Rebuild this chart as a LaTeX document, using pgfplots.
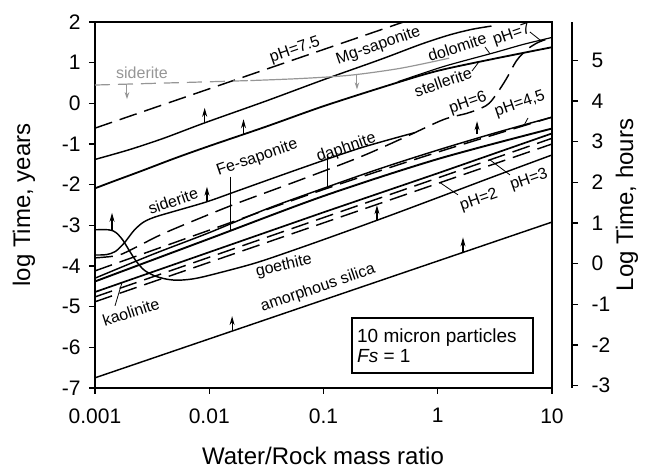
\documentclass[border=0pt]{standalone}
\usepackage{fontspec}
\setmainfont{Liberation Sans}
\usepackage{pgfplots}
\pgfplotsset{compat=1.18}
\usetikzlibrary{arrows.meta}
\definecolor{sgray}{RGB}{150,150,150}
\tikzset{
  lbl/.style={font=\fontsize{16}{16}\selectfont, inner sep=0pt},
  upar/.style={-{Stealth[length=9pt,width=5pt]}, line width=1.1pt, black},
  ldr/.style={line width=0.8pt, black},
  dsh/.style={dash pattern=on 18pt off 8pt},
}
\newcommand\uparr[3][15pt]{\draw[upar] (axis cs:#2,#3) -- ([yshift=#1]axis cs:#2,#3);}
\newcommand\grayarr[2]{\draw[-{Stealth[length=7pt,width=4.5pt]}, line width=1pt, sgray] (axis cs:#1,#2) -- ([yshift=-15pt]axis cs:#1,#2);}
\begin{document}
\begin{tikzpicture}
\begin{axis}[
  at={(0pt,0pt)}, anchor=south west,
  scale only axis, width=457pt, height=366pt,
  xmin=-3, xmax=1, ymin=-7, ymax=2,
  xtick={-3,-2,-1,0,1}, xticklabels={0.001,0.01,0.1,1,10},
  ytick={-7,-6,-5,-4,-3,-2,-1,0,1,2},
  yticklabels={-7,-6,-5,-4,-3,-2,-1,0,1,2},
  tick pos=left, tick align=outside, major tick length=6pt,
  axis line style={line width=1.7pt},
  tick style={line width=1.4pt, black},
  ticklabel style={font=\fontsize{21}{21}\selectfont},
  xticklabel style={yshift=-11pt},
  yticklabel style={xshift=-5pt},
  clip=false,
  cycle list={{black}},
  every axis plot/.append style={line width=1.45pt, black, mark=none},
]
% amorphous silica
\addplot[black] coordinates {(-3,-6.75) (1,-2.92)};
% goethite
\addplot[black, smooth, tension=0.5] coordinates {(-3,-3.11) (-2.88,-3.11) (-2.82,-3.17) (-2.76,-3.35) (-2.7,-3.62) (-2.64,-3.88) (-2.57,-4.1) (-2.48,-4.24) (-2.38,-4.32) (-2.28,-4.35) (-2.15,-4.32) (-2.0,-4.23) (-1.6,-3.93) (-1.2,-3.55) (-0.8,-3.15) (-0.4,-2.74) (0,-2.32) (0.5,-1.79) (1,-1.27)};
% pH=2, pH=3
\addplot[black, dsh] coordinates {(-3,-4.88) (1,-1.0)};
\addplot[black, dsh] coordinates {(-3,-4.76) (1,-0.86)};
% kaolinite
\addplot[black, line width=1.7pt] coordinates {(-3,-4.64) (-2,-3.66) (-1,-2.68) (0,-1.72) (1,-0.74)};
% Fe-saponite
\addplot[black, line width=1.9pt, smooth] coordinates {(-3,-4.38) (-2,-3.33) (-1,-2.28) (0,-1.37) (1,-0.62)};
% pH=4.5
\addplot[black, dsh, smooth] coordinates {(-3,-4.12) (-2,-3.12) (-1,-2.12) (0,-1.2) (1,-0.34)};
% daphnite
\addplot[black, smooth] coordinates {(-3,-4.30) (-2.5,-3.72) (-2,-3.18) (-1.5,-2.6) (-1,-2.09) (-0.5,-1.6) (0,-1.15) (0.5,-0.73) (1,-0.34)};
% pH=6 / pH=7 dashed
\addplot[black, dsh, smooth, tension=0.5] coordinates {(-3,-3.80) (-2.8,-3.74) (-2.65,-3.55) (-2.4,-3.2) (-2.0,-2.73) (-1.73,-2.43) (-1.2,-1.88) (-0.68,-1.32) (-0.3,-0.85) (0.05,-0.4) (0.25,-0.25) (0.38,-0.12) (0.45,0.0) (0.52,0.25) (0.6,0.6) (0.69,1.05) (0.78,1.32) (0.88,1.5) (1,1.62)};
% siderite
\addplot[black, smooth, tension=0.5] coordinates {(-3,-3.73) (-2.9,-3.72) (-2.82,-3.64) (-2.74,-3.42) (-2.66,-3.13) (-2.58,-2.93) (-2.48,-2.8) (-2.3,-2.65) (-2.02,-2.42) (-1.73,-2.13) (-1.2,-1.6) (-0.68,-1.1) (-0.2,-0.72)};
% stellerite
\addplot[black, line width=1.8pt, smooth] coordinates {(-3,-2.09) (-2.85,-1.93) (-2.6,-1.67) (-2.3,-1.35) (-2,-1.05) (-1.5,-0.57) (-1,-0.07) (-0.4,0.47) (0,0.8) (0.5,1.1) (1,1.38)};
% dolomite
\addplot[black, line width=1.2pt, smooth] coordinates {(-0.35,0.53) (0,0.86) (0.17,1.0) (0.5,1.25) (0.75,1.45) (1,1.62)};
% Mg-saponite
\addplot[black, smooth] coordinates {(-3,-1.38) (-2.7,-1.14) (-2.4,-0.86) (-2.04,-0.48) (-1.5,0.06) (-1,0.58) (-0.5,1.08) (-0.15,1.45) (0.1,1.68) (0.3,1.82) (0.47,1.9)};
% pH=7.5
\addplot[black, dsh] coordinates {(-3,-0.61) (-0.3,2.0)};
% siderite (gray)
\addplot[sgray, line width=1.2pt, dash pattern=on 15pt off 8pt] coordinates {(-3,0.45) (-2.5,0.49) (-2,0.53) (-1.64,0.56)};
\addplot[sgray, line width=1.2pt, smooth] coordinates {(-1.64,0.56) (-1.2,0.61) (-0.77,0.69) (-0.33,0.86) (0.1,1.11)};

% arrows
\uparr{-1.8}{-5.601}
\uparr{0.221}{-3.666}
\uparr[17pt]{-2.851}{-3.11}
\uparr{-0.532}{-2.875}
\uparr{-2.02}{-2.42}
\uparr[13pt]{0.344}{-0.76}
\uparr{-1.70}{-0.76}
\uparr{-2.04}{-0.48}
\grayarr{-2.72}{0.47}
\grayarr{-0.707}{0.71}

% leaders
\draw[ldr] (axis cs:0.807,1.754) -- (axis cs:0.912,1.52);
\draw[ldr] (axis cs:0.414,1.385) -- (axis cs:0.457,1.22);
\draw[ldr] (axis cs:0.30,0.795) -- (axis cs:0.361,1.02);
\draw[ldr] (axis cs:0.79,-0.36) -- (axis cs:0.755,-0.54);
\draw[ldr] (axis cs:-0.969,-1.30) -- (axis cs:-0.969,-2.06);
\draw[ldr] (axis cs:-1.818,-1.80) -- (axis cs:-1.818,-3.14);
\draw[ldr] (axis cs:-2.825,-4.98) -- (axis cs:-2.764,-4.41);
\draw[ldr] (axis cs:0.177,-2.25) -- (axis cs:0.02,-1.95);
\draw[ldr] (axis cs:0.632,-1.76) -- (axis cs:0.457,-1.39);

% labels
\node[lbl, rotate=19] at (axis cs:-1.249,1.311) {pH=7.5};
\node[lbl, rotate=19] at (axis cs:-0.52,1.41) {Mg-saponite};
\node[lbl, rotate=18] at (axis cs:0.17,1.385) {dolomite};
\node[lbl, rotate=19] at (axis cs:0.65,1.68) {pH=7};
\node[lbl, rotate=19] at (axis cs:0.046,0.525) {stellerite};
\node[lbl, rotate=19] at (axis cs:0.265,0.0) {pH=6};
\node[lbl, rotate=19] at (axis cs:0.72,-0.02) {pH=4,5};
\node[lbl, rotate=19] at (axis cs:-0.80,-1.10) {daphnite};
\node[lbl, rotate=19] at (axis cs:-1.58,-1.34) {Fe-saponite};
\node[lbl, rotate=19] at (axis cs:-2.317,-2.40) {siderite};
\node[lbl, rotate=13] at (axis cs:-1.346,-4.0) {goethite};
\node[lbl, rotate=18] at (axis cs:-2.685,-5.13) {kaolinite};
\node[lbl, rotate=19] at (axis cs:-1.048,-4.55) {amorphous silica};
\node[lbl, rotate=19] at (axis cs:0.361,-2.377) {pH=2};
\node[lbl, rotate=19] at (axis cs:0.799,-1.885) {pH=3};
\node[lbl, text=sgray] at (axis cs:-2.589,0.746) {siderite};

% info box
\draw[line width=1.3pt] (axis cs:-0.7505,-5.278) rectangle (axis cs:0.8337,-6.630);
\node[anchor=base west, inner sep=0pt, font=\fontsize{19}{19}\selectfont] at (axis cs:-0.707,-5.893) {10 micron particles};
\node[anchor=base west, inner sep=0pt, font=\fontsize{19}{19}\selectfont] at (axis cs:-0.707,-6.385) {\textit{Fs} = 1};
\end{axis}

\begin{axis}[
  at={(20pt,0pt)}, anchor=south west,
  scale only axis, width=457pt, height=366pt,
  xmin=-3, xmax=1, ymin=-3.0572, ymax=5.9428,
  axis x line=none, axis y line=right,
  ytick={-3,-2,-1,0,1,2,3,4,5},
  yticklabels={-3,-2,-1,0,1,2,3,4,5},
  tick align=outside, major tick length=6pt,
  axis line style={-, line width=1.7pt},
  tick style={line width=1.4pt, black},
  ticklabel style={font=\fontsize{21}{21}\selectfont},
  yticklabel style={xshift=10pt},
]
\addplot[draw=none] coordinates {(0,0)};
\end{axis}

\node[rotate=90, font=\fontsize{24}{24}\selectfont] at (-71pt,183pt) {log Time, years};
\node[rotate=90, font=\fontsize{24}{24}\selectfont] at (532pt,183pt) {Log Time, hours};
\node[anchor=base, font=\fontsize{24}{24}\selectfont] at (228pt,-77pt) {Water/Rock mass ratio};

\pgfresetboundingbox
\path[use as bounding box] (-95pt,-82pt) rectangle (551pt,388pt);
\end{tikzpicture}
\end{document}
